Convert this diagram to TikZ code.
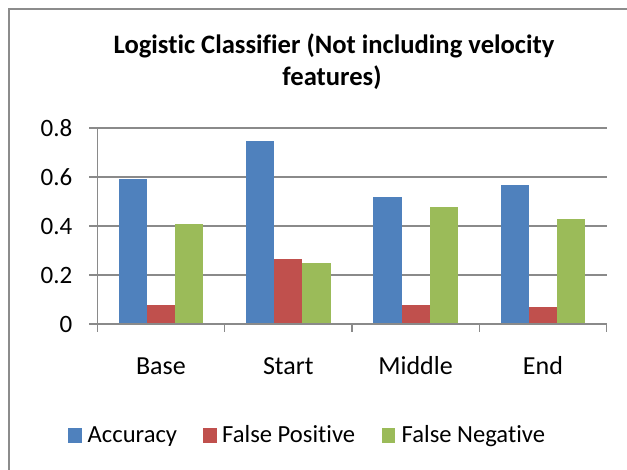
\documentclass[tikz,border=0pt]{standalone}
\usepackage{fontspec}
\setmainfont{Carlito}[Ligatures=NoCommon]
\definecolor{accblue}{HTML}{4F81BD}
\definecolor{fpred}{HTML}{C0504D}
\definecolor{fngreen}{HTML}{9BBB59}
\definecolor{gridgray}{HTML}{8A8A8A}
\definecolor{framegray}{HTML}{8C8C8C}
\begin{document}
\begin{tikzpicture}[x=1pt,y=-1pt,
  gridline/.style={draw=gridgray,line width=1.5pt},
  axisline/.style={draw=gridgray,line width=1.5pt},
  ylab/.style={font=\fontsize{25}{29}\selectfont,inner sep=0pt},
  catlab/.style={font=\fontsize{26}{30}\selectfont,inner sep=0pt},
  leglab/.style={font=\fontsize{24.6}{29}\selectfont,inner sep=0pt},
  ttl/.style={font=\fontsize{26.6}{31}\selectfont\bfseries,inner sep=0pt},
]
\useasboundingbox (0,0) rectangle (627,470);
\begin{scope}
\clip (0,0) rectangle (627,470);
\draw[framegray,line width=1.8pt] (8.8,9.3) rectangle (700,540);
\end{scope}

% title
\node[ttl,anchor=base] (t1) at (334,53.3) {Logistic Classifier (Not including velocity};
\node[ttl,anchor=base] (t2) at (332,86) {features)};

% gridlines and y labels
\foreach \v/\lbl/\nm in {0.2/0.2/y2,0.4/0.4/y4,0.6/0.6/y6,0.8/0.8/y8}{
  \pgfmathsetmacro{\yy}{324-\v*245}
  \draw[gridline] (89,\yy) -- (607,\yy);
  \node[ylab,anchor=east] (\nm) at (72.5,\yy) {\lbl};
}
\node[ylab,anchor=east] (y0) at (72.5,324) {0};

% bars
\def\bw{28.3}
\foreach \k/\a/\f/\n in {0/0.59/0.078/0.407,1/0.747/0.264/0.249,2/0.517/0.078/0.478,3/0.569/0.068/0.427}{
  \pgfmathsetmacro{\xa}{97.3+127.35*\k+21.2}
  \pgfmathsetmacro{\xb}{\xa+\bw}
  \pgfmathsetmacro{\xc}{\xb+\bw}
  \pgfmathsetmacro{\xd}{\xc+\bw}
  \pgfmathsetmacro{\ya}{324-\a*245}
  \pgfmathsetmacro{\yf}{324-\f*245}
  \pgfmathsetmacro{\yn}{324-\n*245}
  \fill[accblue] (\xa,324) rectangle (\xb,\ya);
  \fill[fpred] (\xb,324) rectangle (\xc,\yf);
  \fill[fngreen] (\xc,324) rectangle (\xd,\yn);
}

% axes
\draw[axisline] (97.3,127.7) -- (97.3,324);
\draw[axisline] (89,324) -- (607,324);
\foreach \k in {0,1,2,3,4}{
  \pgfmathsetmacro{\xt}{97.3+127.35*\k}
  \draw[axisline] (\xt,324) -- (\xt,332.5);
}

% category labels
\node[catlab,anchor=base] (cBase) at (160.9,375) {Base};
\node[catlab,anchor=base] (cStart) at (288.3,375) {Start};
\node[catlab,anchor=base] (cMiddle) at (415.6,375) {Middle};
\node[catlab,anchor=base] (cEnd) at (543,375) {End};

% legend
\fill[accblue] (68.3,428.3) rectangle (81.7,442.7);
\node[leglab,anchor=base west] (lAcc) at (87.5,442.7) {Accuracy};
\fill[fpred] (203.3,428.3) rectangle (216.7,442.7);
\node[leglab,anchor=base west] (lFP) at (222,442.7) {False Positive};
\fill[fngreen] (381.7,428.3) rectangle (395,442.7);
\node[leglab,anchor=base west] (lFN) at (401.5,442.7) {False Negative};
\end{tikzpicture}
\end{document}
